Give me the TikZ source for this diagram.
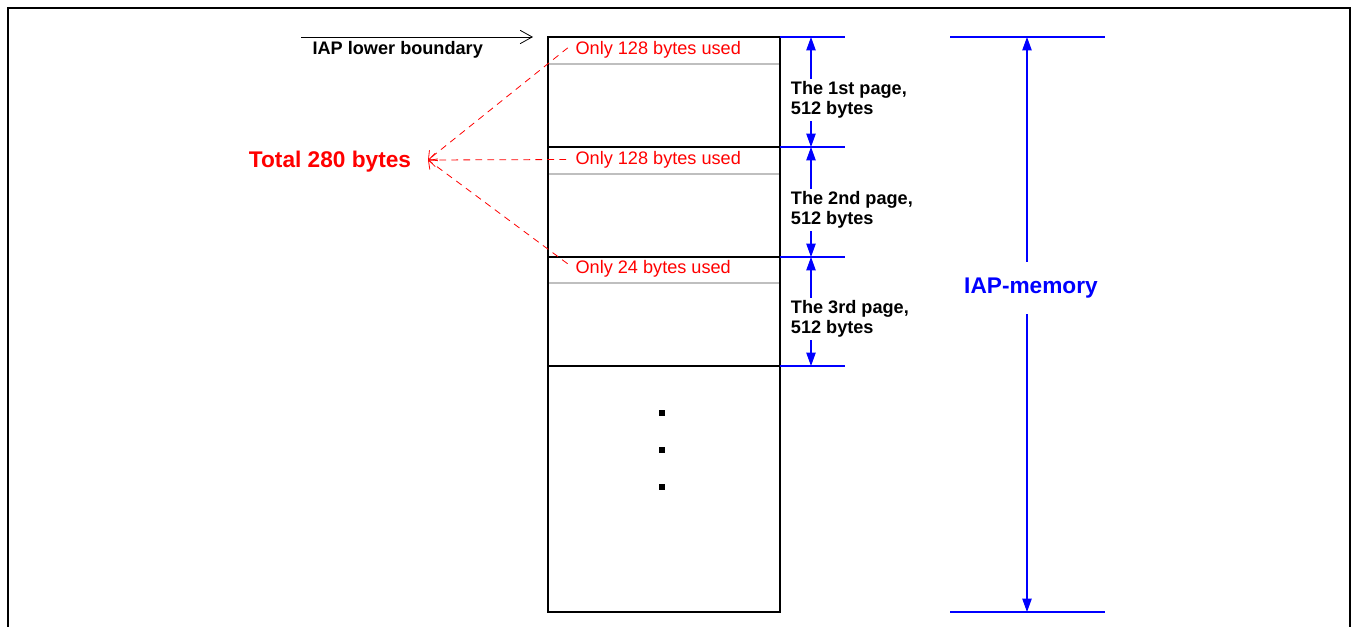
\documentclass[tikz,border=0pt]{standalone}
\usepackage{fontspec}
\setmainfont{Liberation Sans}
\usetikzlibrary{positioning, arrows.meta}

\begin{document}
\begin{tikzpicture}[
  x=0.75pt, y=-0.75pt,
  font=\fontsize{13.6}{15}\selectfont,
  frame/.style={line width=2pt},
  pageline/.style={line width=1.8pt},
  usedline/.style={black!25, line width=0.8pt},
  used/.style={red, anchor=west, inner sep=1pt},
  pagelbl/.style={align=left, font=\fontsize{13.6}{15}\selectfont\bfseries, anchor=west, inner sep=2pt},
  extline/.style={blue, line width=0.8pt},
  dim/.style={blue, line width=0.8pt, -{Triangle[length=10pt, width=7pt]}},
  sum/.style={red, line width=0.6pt, dash pattern=on 5pt off 4pt, -{Straight Barb[length=5pt, width=10pt]}},
  bound/.style={line width=0.6pt, -{Straight Barb[length=9pt, width=10pt]}}
]
\useasboundingbox (0,0) rectangle (1354,627);
% ----- outer frame -----
\draw[frame] (8,640) -- (8,8) -- (1350,8) -- (1350,640);
% ----- memory block -----
\draw[line width=0.9pt] (548,37) coordinate (mtl) rectangle (780,612) coordinate (mbr);
\foreach \y in {147,257,366} \draw[pageline] (548,\y) -- (780,\y);
\foreach \y in {64,174,283} \draw[usedline] (549,\y) -- (779,\y);
\foreach \y [count=\i from 0] in {37,147,257,366} {
  \draw[extline] (780,\y) -- (845,\y);
  \coordinate (b\i) at (811,\y);
}
\foreach \y [count=\i] in {413,450,487}
  \node[fill, inner sep=0pt, minimum size=3.8pt] (d\i) at (662,\y) {};
% ----- used parts -----
\node[used] (u1) at (574,49.5)  {Only 128 bytes used};
\node[used] (u2) at (574,159.5) {Only 128 bytes used};
\node[used] (u3) at (574,268.5) {Only 24 bytes used};
\node[red, inner sep=2pt, font=\fontsize{17}{20}\selectfont\bfseries] (tot) at (330,162) {Total 280 bytes};
\coordinate (apex) at (428,160);
\draw[sum, shorten <=6pt] ([yshift=5pt]u1.west) -- (apex);
\draw[sum, shorten <=6pt] (u2.west) -- (apex);
\draw[sum, shorten <=6pt] (u3.west) -- (apex);
% ----- lower boundary -----
\node[anchor=west, inner sep=1pt, font=\fontsize{13.6}{15}\selectfont\bfseries] (lb) at (311,49.5) {IAP lower boundary};
\coordinate (lbs) at (301,37);
\coordinate (lbe) at (533,37);
\draw[bound] (lbs) -- (lbe);
% ----- page sizes -----
\node[pagelbl] (p1) at (788,100)  {The 1st page,\\512 bytes};
\node[pagelbl] (p2) at (788,210) {The 2nd page,\\512 bytes};
\node[pagelbl] (p3) at (788,319) {The 3rd page,\\512 bytes};
\draw[dim] (p1.north -| b0) -- (b0);
\draw[dim] (p1.south -| b0) -- (b1);
\draw[dim] (p2.north -| b0) -- (b1);
\draw[dim] (p2.south -| b0) -- (b2);
\draw[dim] (p3.north -| b0) -- (b2);
\draw[dim] (p3.south -| b0) -- (b3);
% ----- whole IAP memory -----
\draw[extline] (950,37) -- (1105,37);
\draw[extline] (950,612) -- (1105,612);
\coordinate (t0) at (1027,37);
\coordinate (t1) at (1027,612);
\node[blue, inner xsep=2pt, inner ysep=12pt, font=\fontsize{17}{20}\selectfont\bfseries] (iap) at (1031,288) {IAP-memory};
\draw[dim] (iap.north -| t0) -- (t0);
\draw[dim] (iap.south -| t0) -- (t1);
\end{tikzpicture}
\end{document}
